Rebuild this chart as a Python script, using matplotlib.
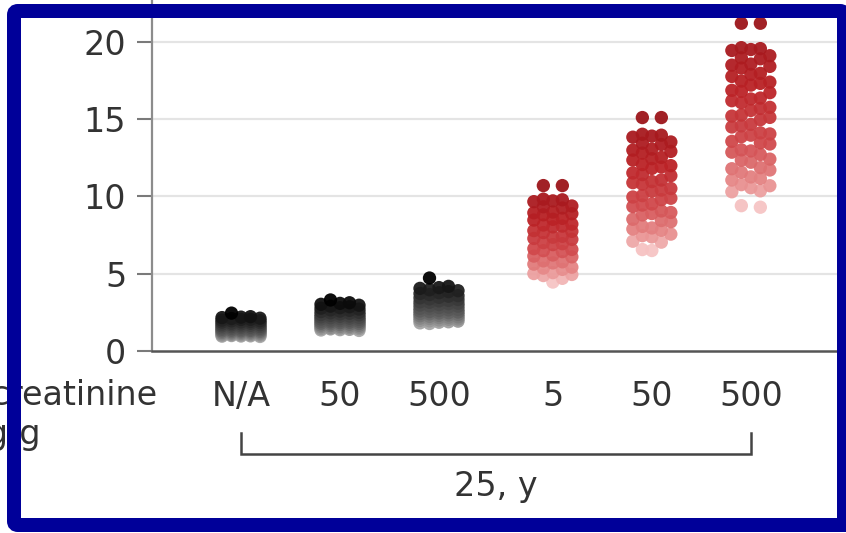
import matplotlib
matplotlib.use("Agg")
import matplotlib.pyplot as plt
import numpy as np
from matplotlib.colors import LinearSegmentedColormap
from matplotlib.patches import FancyBboxPatch
from matplotlib.lines import Line2D
from matplotlib.transforms import blended_transform_factory

# ---------------------------------------------------------------- data
categories = ["N/A", "50", "500", "5", "50", "500"]
age_group_label = "25, y"
acr_label_lines = ["Urine albumin-creatinine", "ratio, mg/g"]
y_ticks = [0, 5, 10, 15, 20]

no_albuminuria = [2.45, 2.22, 2.19, 2.16, 2.12, 2.10, 2.05, 2.04, 2.00, 1.96, 1.95, 1.91,
                  1.88, 1.87, 1.84, 1.80, 1.79, 1.75, 1.74, 1.70, 1.69, 1.66, 1.63, 1.62,
                  1.58, 1.57, 1.54, 1.52, 1.50, 1.47, 1.46, 1.43, 1.41, 1.40, 1.37, 1.35,
                  1.33, 1.31, 1.30, 1.27, 1.25, 1.24, 1.22, 1.20, 1.18, 1.16, 1.15, 1.13,
                  1.11, 1.10, 1.08, 1.06, 1.05, 1.03, 1.02, 1.00, 0.98, 0.97, 0.96, 0.94]
acr50_ref = [3.30, 3.12, 3.08, 3.02, 2.96, 2.90, 2.86, 2.80, 2.77, 2.71, 2.66, 2.63,
             2.58, 2.55, 2.50, 2.47, 2.44, 2.40, 2.36, 2.34, 2.30, 2.26, 2.24, 2.21,
             2.17, 2.15, 2.12, 2.09, 2.07, 2.04, 2.00, 1.99, 1.96, 1.93, 1.91, 1.88,
             1.86, 1.83, 1.80, 1.78, 1.76, 1.73, 1.71, 1.68, 1.66, 1.64, 1.61, 1.59,
             1.57, 1.55, 1.52, 1.51, 1.49, 1.46, 1.45, 1.43, 1.40, 1.38, 1.36, 1.33]
acr500_ref = [4.72, 4.18, 4.10, 4.05, 3.96, 3.90, 3.84, 3.77, 3.72, 3.65, 3.58, 3.54,
              3.47, 3.44, 3.37, 3.33, 3.27, 3.24, 3.18, 3.15, 3.09, 3.06, 3.00, 2.97,
              2.92, 2.90, 2.84, 2.81, 2.76, 2.74, 2.69, 2.66, 2.62, 2.59, 2.55, 2.52,
              2.48, 2.46, 2.42, 2.40, 2.36, 2.33, 2.30, 2.28, 2.24, 2.21, 2.18, 2.16,
              2.12, 2.10, 2.07, 2.05, 2.01, 1.98, 1.95, 1.93, 1.89, 1.86, 1.82, 1.78]
acr5_age25 = [10.70, 10.70,
              9.82, 9.78, 9.71, 9.66, 9.38, 9.33, 9.25, 8.99, 8.94, 8.88, 8.81,
              8.58, 8.52, 8.47, 8.21, 8.15, 8.08, 8.03, 7.79, 7.74, 7.66,
              7.42, 7.36, 7.28, 7.22, 7.01, 6.94, 6.88, 6.62, 6.57, 6.49, 6.43,
              6.21, 6.14, 6.09, 5.83, 5.77, 5.70, 5.62, 5.42, 5.36, 5.28,
              5.07, 5.01, 4.95, 4.88, 4.70, 4.46]
acr50_age25 = [15.10, 15.10,
               14.02, 13.96, 13.90, 13.83, 13.52, 13.44, 13.36, 13.06, 12.99, 12.91, 12.80,
               12.52, 12.44, 12.35, 12.06, 11.99, 11.90, 11.81, 11.52, 11.41, 11.34,
               11.06, 10.96, 10.89, 10.79, 10.51, 10.41, 10.33, 10.05, 9.96, 9.88, 9.79,
               9.51, 9.44, 9.34, 9.06, 8.96, 8.89, 8.80, 8.52, 8.44, 8.36,
               8.06, 7.96, 7.89, 7.81, 7.56, 7.46, 7.38, 7.10, 7.04, 6.56, 6.50]
acr500_age25 = [21.20, 21.20,
                19.62, 19.56, 19.50, 19.44, 19.10, 18.96, 18.90, 18.56, 18.49, 18.41, 18.30,
                17.96, 17.89, 17.76, 17.46, 17.39, 17.31, 17.20, 16.86, 16.79, 16.71,
                16.36, 16.30, 16.19, 16.06, 15.76, 15.69, 15.56, 15.26, 15.19, 15.11, 14.96,
                14.66, 14.56, 14.49, 14.11, 14.04, 13.96, 13.86, 13.56, 13.46, 13.39,
                13.01, 12.94, 12.86, 12.71, 12.41, 12.34, 12.21, 11.86, 11.79, 11.71, 11.56,
                11.26, 11.16, 11.06, 10.76, 10.69, 10.56, 10.36, 10.30, 9.40, 9.30]

groups = [no_albuminuria, acr50_ref, acr500_ref, acr5_age25, acr50_age25, acr500_age25]
palette_of_group = ["grey", "grey", "grey", "red", "red", "red"]

# ---------------------------------------------------------------- layout
W, H, DPI = 846, 533, 100
slot_x = [0, 1, 2, 3.15, 4.15, 5.15]          # category centres (data units)
px_per_x = 99.0
ax_left_px, axis_px, x0_px = 152, 351, 241
y_top = 24.0
px_per_y = 15.46
FS = 24

fig = plt.figure(figsize=(W / DPI, H / DPI), dpi=DPI)
fig.patch.set_facecolor("white")

ax = fig.add_axes([ax_left_px / W, 1 - axis_px / H,
                   1 - ax_left_px / W, y_top * px_per_y / H])
ax.set_ylim(0, y_top)
ax.set_xlim((ax_left_px - x0_px) / px_per_x, (W - x0_px) / px_per_x)

for s in ("top", "right"):
    ax.spines[s].set_visible(False)
ax.spines["left"].set_color("#8c8c8c")
ax.spines["left"].set_linewidth(1.6)
ax.spines["bottom"].set_color("#555555")
ax.spines["bottom"].set_linewidth(1.8)
ax.spines["bottom"].set_zorder(5)

ax.set_yticks(y_ticks)
ax.set_yticklabels([str(t) for t in y_ticks])
ax.tick_params(axis="y", length=10.5, width=1.5, color="#7a7a7a", pad=8,
               labelsize=FS, labelcolor="#333333")
ax.set_xticks(slot_x)
ax.set_xticklabels(categories)
ax.tick_params(axis="x", length=0, pad=21, labelsize=FS, labelcolor="#333333")

for t in y_ticks[1:]:
    ax.axhline(t, color="#e4e4e4", lw=1.6, zorder=0)

# ---------------------------------------------------------------- dots
grey_cmap = LinearSegmentedColormap.from_list(
    "greys", [(0.0, "#a8a8a8"), (0.25, "#606060"), (0.6, "#303030"), (1.0, "#000000")])
red_cmap = LinearSegmentedColormap.from_list(
    "reds", [(0.0, "#f6c4c4"), (0.15, "#e58585"), (0.35, "#d0484b"),
             (0.65, "#bb2226"), (1.0, "#9c151a")])
cmaps = {"grey": grey_cmap, "red": red_cmap}

col_step = 9.5 / px_per_x          # spacing between dot columns
min_gap = 11.0 / px_per_y          # vertical clearance inside one column
col_order = (-1, 1, 0, -2, 2)


def column_offsets(vals):
    """Assign each value to a dot column, most central free column first."""
    vals = np.asarray(vals, float)
    last = {c: np.inf for c in col_order}
    offs = np.zeros(len(vals))
    for i in np.argsort(-vals, kind="stable"):
        v = vals[i]
        pick = None
        for c in col_order:
            if last[c] - v >= min_gap:
                pick = c
                break
        if pick is None:
            pick = max(col_order, key=lambda c: last[c] - v)
        offs[i] = pick
        last[pick] = v
    return offs * col_step


for xc, vals, pal in zip(slot_x, groups, palette_of_group):
    vals = np.asarray(vals, float)
    offs = column_offsets(vals)
    frac = (vals - vals.min()) / (vals.max() - vals.min())
    colors = cmaps[pal](frac)
    order = np.argsort(vals)           # lighter first, darker on top
    ax.scatter(xc + offs[order], vals[order], s=92, c=colors[order],
               linewidths=0, alpha=0.95, zorder=3)

# ---------------------------------------------------------------- annotations
trans = blended_transform_factory(ax.transData, fig.transFigure)


def fy(py):
    return 1 - py / H


bx0, bx1 = slot_x[0], slot_x[-1]
fig.add_artist(Line2D([bx0, bx0, bx1, bx1], [fy(433), fy(454), fy(454), fy(433)],
                      transform=trans, color="#444444", lw=1.8,
                      solid_joinstyle="miter"))
fig.text((bx0 + bx1) / 2, fy(496), age_group_label, transform=trans,
         ha="center", va="baseline", fontsize=FS, color="#333333")

fig.text(157 / W, fy(405), acr_label_lines[0], ha="right", va="baseline",
         fontsize=FS, color="#333333")
fig.text(40 / W, fy(444), acr_label_lines[1], ha="right", va="baseline",
         fontsize=FS, color="#333333")

# ---------------------------------------------------------------- frame
lw_px = 14
x_out0, y_out0, x_out1, y_out1 = 7, 4, 860, 532     # outer edge, pixels from top-left
frame = FancyBboxPatch((x_out0 + lw_px / 2, H - y_out1 + lw_px / 2),
                       (x_out1 - x_out0) - lw_px,
                       (y_out1 - y_out0) - lw_px,
                       boxstyle="round,pad=0,rounding_size=4",
                       transform=None, facecolor="none", edgecolor="#000099",
                       linewidth=lw_px * 72 / DPI, zorder=100)
# inner edge on the right sits at x = 837
frame.set_width((837 + lw_px / 2) - (x_out0 + lw_px / 2) + 0)
fig.add_artist(frame)
# blue fills the strip from the inner right edge to the picture edge
fig.add_artist(plt.Rectangle((837, H - y_out1 + 0), W - 837, y_out1 - 14,
                             transform=None, facecolor="#000099",
                             edgecolor="none", zorder=100))

fig.savefig("out.png", dpi=DPI)
